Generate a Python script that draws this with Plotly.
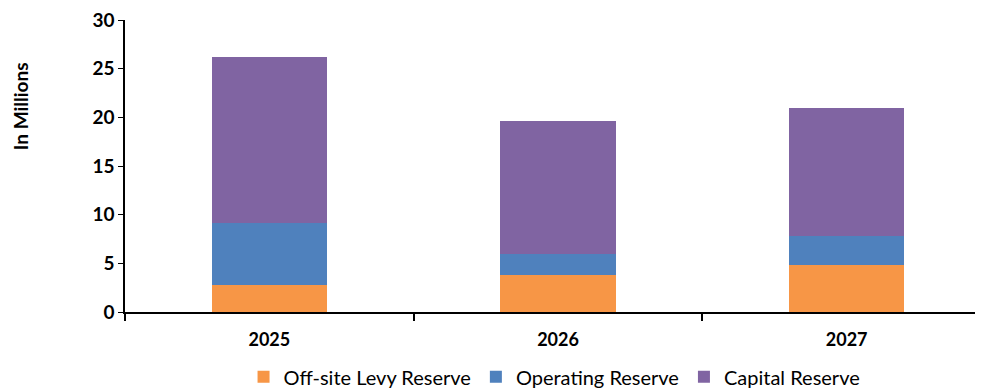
import plotly.graph_objects as go

years = ["2025", "2026", "2027"]
offsite_levy = [2.75, 3.85, 4.85]
operating = [6.35, 2.1, 3.0]
capital = [17.05, 13.65, 13.1]
y_ticks = [0, 5, 10, 15, 20, 25, 30]

colors = {"off": "#F79646", "op": "#4F81BD", "cap": "#8064A2"}

fig = go.Figure()
fig.add_trace(go.Bar(x=years, y=offsite_levy, name="Off-site Levy Reserve",
                     marker=dict(color=colors["off"], line=dict(width=0)), width=0.4))
fig.add_trace(go.Bar(x=years, y=operating, name="Operating Reserve",
                     marker=dict(color=colors["op"], line=dict(width=0)), width=0.4))
fig.add_trace(go.Bar(x=years, y=capital, name="Capital Reserve",
                     marker=dict(color=colors["cap"], line=dict(width=0)), width=0.4))

fig.update_layout(
    barmode="stack",
    width=983, height=389,
    margin=dict(l=117, r=0, t=12, b=85, autoexpand=False),
    plot_bgcolor="white", paper_bgcolor="white",
    font=dict(family="Lato", color="black"),
    showlegend=True,
    legend=dict(orientation="h", x=0.556, xref="container", xanchor="center",
                y=0.052, yref="container", yanchor="middle",
                font=dict(size=20, family="Lato"), traceorder="normal",
                itemwidth=30),
    annotations=[dict(text="<b>In Millions</b>", textangle=-90,
                      xref="paper", x=0, xshift=-105, xanchor="center",
                      yref="paper", y=0.705, yanchor="middle", showarrow=False,
                      font=dict(size=19, family="Lato", color="black"))],
)
fig.update_xaxes(
    range=[-0.5, 2.5], automargin=False,
    showline=True, linecolor="black", linewidth=2,
    ticks="outside", tickson="boundaries", ticklen=7, tickcolor="black", tickwidth=2,
    tickfont=dict(size=18, family="Lato", color="black", weight="bold"),
    ticklabelstandoff=10,
    showgrid=False,
)
fig.update_yaxes(
    range=[0, 30], tickvals=y_ticks, automargin=False, ticklabeloverflow="allow",
    showline=True, linecolor="black", linewidth=1.5,
    ticks="outside", ticklen=5, tickcolor="black",
    tickfont=dict(size=19, family="Lato", color="black", weight="bold"),
    showgrid=False, zeroline=False,
)

fig.write_html("out.html")
